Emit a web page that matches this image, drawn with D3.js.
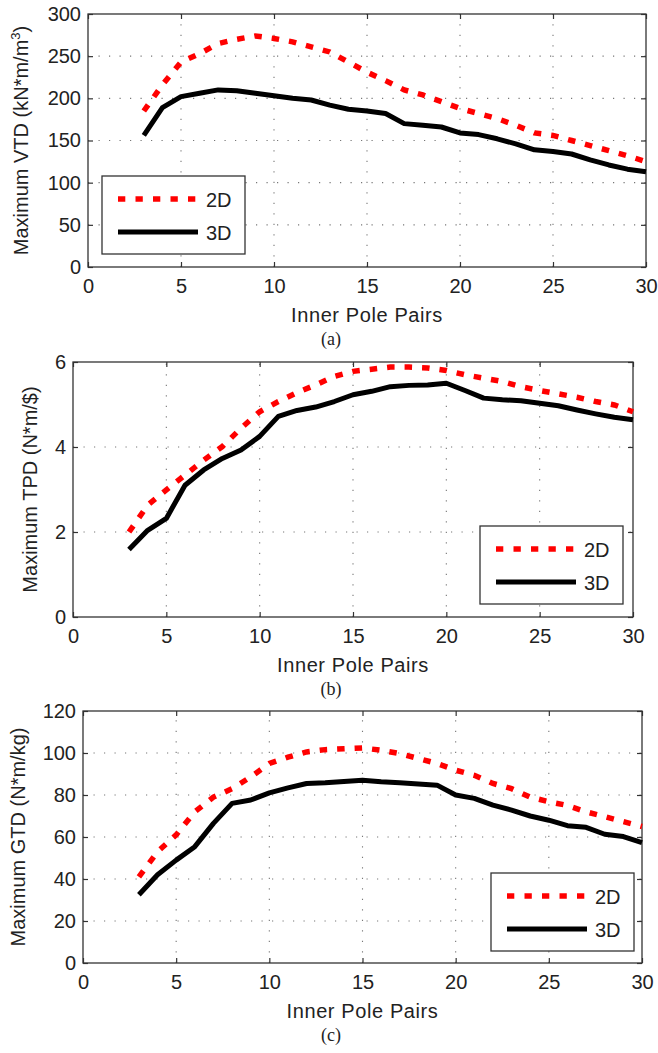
<!DOCTYPE html>
<html>
<head>
<meta charset="utf-8">
<script src="https://cdn.jsdelivr.net/npm/d3@7"></script>
<style>
	body { margin: 0; background: #fff; }
	svg text { font-family: "Liberation Sans", Arial, sans-serif; fill: #222; }
</style>
</head>
<body>
<svg id="chart" width="658" height="1053"></svg>
<script>
// inner pole pairs 3..30
var polePairs = d3.range(3, 31);

var vtd2D = [185, 216, 243, 253, 265, 270, 274, 271, 267, 261, 255, 243, 231, 221, 210, 204, 196, 188,
	182, 176, 168, 159, 156, 150, 144, 138, 132, 125];
var vtd3D = [156, 189, 202, 206, 210, 209, 206, 203, 200, 198, 192, 187, 185, 182, 170, 168, 166, 159,
	157, 152, 146, 139, 137, 134, 127, 121, 116, 113];

var tpd2D = [2.0, 2.63, 2.99, 3.34, 3.69, 4.01, 4.44, 4.83, 5.07, 5.28, 5.46, 5.66, 5.78, 5.83, 5.88, 5.88,
	5.86, 5.80, 5.70, 5.62, 5.54, 5.42, 5.33, 5.25, 5.17, 5.07, 4.99, 4.83];
var tpd3D = [1.59, 2.04, 2.32, 3.1, 3.46, 3.73, 3.93, 4.25, 4.72, 4.86, 4.94, 5.07, 5.23, 5.31, 5.42, 5.45,
	5.46, 5.50, 5.33, 5.15, 5.11, 5.09, 5.03, 4.97, 4.87, 4.78, 4.70, 4.64];

var gtd2D = [41, 53, 61, 72, 79, 83, 88.6, 95, 98, 100.5, 101.6, 102, 102.4, 101.3, 99.7, 97.4, 95, 91.8,
	89.4, 85.5, 83, 79, 76.8, 75, 72, 69.7, 67.3, 65];
var gtd3D = [32.5, 42, 49, 55.4, 66.5, 76, 77.6, 81, 83.4, 85.5, 85.8, 86.4, 87, 86.3, 85.8, 85.2, 84.7, 80,
	78.4, 75.2, 72.8, 70, 68, 65.4, 64.6, 61.3, 60.2, 57.3];

var xTicks = [0, 5, 10, 15, 20, 25, 30];
var vtdTicks = [0, 50, 100, 150, 200, 250, 300];
var tpdTicks = [0, 2, 4, 6];
var gtdTicks = [0, 20, 40, 60, 80, 100, 120];
var seriesNames = ["2D", "3D"];

var svg = d3.select("#chart");
var fs = 20;

function panel(opt) {
	var x = d3.scaleLinear().domain([0, 30]).range([opt.left, opt.right]),
		y = d3.scaleLinear().domain([0, opt.yMax]).range([opt.bottom, opt.top]);
	var g = svg.append("g");

	// dotted grid
	g.selectAll(".gx").data(xTicks.slice(1, -1)).enter().append("line")
		.attr("x1", function (d) { return x(d); }).attr("x2", function (d) { return x(d); })
		.attr("y1", opt.bottom).attr("y2", opt.top)
		.attr("stroke", "#777").attr("stroke-width", 1.1).attr("stroke-dasharray", "1.2,9.3");
	g.selectAll(".gy").data(opt.yTicks.slice(1, -1)).enter().append("line")
		.attr("y1", function (d) { return y(d); }).attr("y2", function (d) { return y(d); })
		.attr("x1", opt.left).attr("x2", opt.right)
		.attr("stroke", "#777").attr("stroke-width", 1.1).attr("stroke-dasharray", "1.2,9.3");

	// axes, ticks inward on all sides
	var fmt = d3.format("~g");
	var ax = [
		d3.axisBottom(x).tickValues(xTicks).tickSizeInner(-5).tickSizeOuter(0).tickPadding(12).tickFormat(fmt),
		d3.axisTop(x).tickValues(xTicks).tickSizeInner(-5).tickSizeOuter(0).tickFormat(""),
		d3.axisLeft(y).tickValues(opt.yTicks).tickSizeInner(-5).tickSizeOuter(0).tickPadding(7).tickFormat(fmt),
		d3.axisRight(y).tickValues(opt.yTicks).tickSizeInner(-5).tickSizeOuter(0).tickFormat("")
	];
	var pos = ["translate(0," + opt.bottom + ")", "translate(0," + opt.top + ")",
		"translate(" + opt.left + ",0)", "translate(" + opt.right + ",0)"];
	ax.forEach(function (a, i) {
		var ag = g.append("g").attr("transform", pos[i]).call(a);
		ag.select(".domain").remove();
		ag.selectAll("line").attr("stroke", "#333").attr("stroke-width", 1.2);
		ag.selectAll("text").attr("font-size", fs).attr("fill", "#222")
			.attr("font-family", "Liberation Sans, Arial, sans-serif");
	});
	g.append("rect").attr("x", opt.left).attr("y", opt.top)
		.attr("width", opt.right - opt.left).attr("height", opt.bottom - opt.top)
		.attr("fill", "none").attr("stroke", "#333").attr("stroke-width", 1.3);

	var line = d3.line().x(function (d, i) { return x(polePairs[i]); }).y(function (d) { return y(d); });
	g.append("path").datum(opt.s3).attr("d", line)
		.attr("fill", "none").attr("stroke", "#000").attr("stroke-width", 5).attr("stroke-linejoin", "round");
	g.append("path").datum(opt.s2).attr("d", line)
		.attr("fill", "none").attr("stroke", "#f00").attr("stroke-width", 5.5).attr("stroke-dasharray", "7.5,10");

	// labels
	g.append("text").attr("x", (opt.left + opt.right) / 2).attr("y", opt.bottom + 55)
		.attr("text-anchor", "middle").attr("font-size", fs).attr("letter-spacing", 0.6).text("Inner Pole Pairs");
	g.append("text").attr("x", 331).attr("y", opt.bottom + 78)
		.attr("text-anchor", "middle").attr("font-size", 18)
		.style("font-family", "Liberation Serif, Times New Roman, serif").text(opt.tag);
	var yl = g.append("text")
		.attr("transform", "translate(" + opt.yLabelX + "," + (opt.top + opt.bottom) / 2 + ") rotate(-90)")
		.attr("text-anchor", "middle").attr("font-size", fs);
	yl.append("tspan").text(opt.yLabel);
	if (opt.sup) {
		yl.append("tspan").attr("dy", -8).attr("font-size", 13).text(opt.sup);
		yl.append("tspan").attr("dy", 8).text(")");
	}

	// legend
	var L = opt.legend;
	g.append("rect").attr("x", L.x).attr("y", L.y).attr("width", 143).attr("height", 78)
		.attr("fill", "#fff").attr("stroke", "#333").attr("stroke-width", 1.3);
	seriesNames.forEach(function (name, i) {
		var ly = L.y + 23 + i * 33;
		g.append("line").attr("x1", L.x + 16).attr("x2", L.x + 96).attr("y1", ly).attr("y2", ly)
			.attr("stroke", i == 0 ? "#f00" : "#000").attr("stroke-width", i == 0 ? 5.5 : 5)
			.attr("stroke-dasharray", i == 0 ? "7.3,10.2" : null);
		g.append("text").attr("x", L.x + 104).attr("y", ly + 8).attr("font-size", 20).text(name);
	});
}

panel({ left: 88, right: 646, top: 14, bottom: 267, yMax: 300, yTicks: vtdTicks, s2: vtd2D, s3: vtd3D,
	yLabel: "Maximum VTD (kN*m/m", sup: "3", yLabelX: 28, tag: "(a)", legend: { x: 102, y: 176 } });
panel({ left: 73, right: 633, top: 362, bottom: 617, yMax: 6, yTicks: tpdTicks, s2: tpd2D, s3: tpd3D,
	yLabel: "Maximum TPD (N*m/$)", yLabelX: 37, tag: "(b)", legend: { x: 480, y: 526 } });
panel({ left: 83, right: 642, top: 711, bottom: 963, yMax: 120, yTicks: gtdTicks, s2: gtd2D, s3: gtd3D,
	yLabel: "Maximum GTD (N*m/kg)", yLabelX: 25, tag: "(c)", legend: { x: 491, y: 873 } });
</script>
</body>
</html>
